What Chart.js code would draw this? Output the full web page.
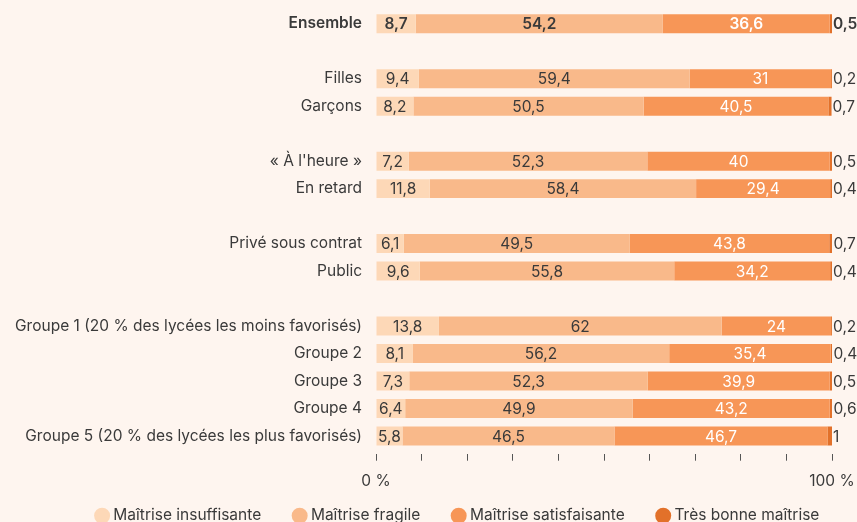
<!DOCTYPE html>
<html><head><meta charset="utf-8">
<script src="https://cdn.jsdelivr.net/npm/chart.js@4/dist/chart.umd.min.js"></script>
<style>
html,body{margin:0;padding:0;background:#FEF5EF;}
#wrap{width:857px;height:522px;position:relative;}
</style></head>
<body><div id="wrap"><canvas id="c" width="857" height="522"></canvas></div>
<script>
const categories = ["Ensemble", "", "Filles", "Garçons", "", "« À l'heure »", "En retard", "", "Privé sous contrat", "Public", "", "Groupe 1 (20 % des lycées les moins favorisés)", "Groupe 2", "Groupe 3", "Groupe 4", "Groupe 5 (20 % des lycées les plus favorisés)"];
const seriesNames = ["Maîtrise insuffisante", "Maîtrise fragile", "Maîtrise satisfaisante", "Très bonne maîtrise"];
const insuffisante = [8.7, null, 9.4, 8.2, null, 7.2, 11.8, null, 6.1, 9.6, null, 13.8, 8.1, 7.3, 6.4, 5.8];
const fragile      = [54.2, null, 59.4, 50.5, null, 52.3, 58.4, null, 49.5, 55.8, null, 62, 56.2, 52.3, 49.9, 46.5];
const satisfaisante= [36.6, null, 31, 40.5, null, 40, 29.4, null, 43.8, 34.2, null, 24, 35.4, 39.9, 43.2, 46.7];
const tresBonne    = [0.5, null, 0.2, 0.7, null, 0.5, 0.4, null, 0.7, 0.4, null, 0.2, 0.4, 0.5, 0.6, 1];
const xTicks = [0, 100];

const colors = ["#FDD8B7", "#F9B98A", "#F79657", "#E2712A"];
const FONT = "Inter";
const FS = 15.5;
const TXT = "#3a3a3a";
const LEGEND_SHIFT = 43;

const fmt = v => String(v).replace('.', ',');

const labelPlugin = {
  id: 'barLabels',
  afterLayout(chart) {
    // widen the clipping box of the x tick labels and move the legend block right
    chart.scales.x.bottom = chart.height;
    chart.legend.left += LEGEND_SHIFT;
    chart.legend.right += LEGEND_SHIFT;
  },
  afterDatasetsDraw(chart) {
    const ctx = chart.ctx;
    ctx.save();
    ctx.textBaseline = 'middle';
    chart.data.datasets.forEach((ds, di) => {
      const meta = chart.getDatasetMeta(di);
      meta.data.forEach((el, i) => {
        const v = ds.data[i];
        if (v == null) return;
        const p = el.getProps(['x', 'y', 'base'], true);
        const bold = i === 0;
        ctx.font = (bold ? '600 ' : '') + FS + 'px ' + FONT;
        if (di === 3) {
          ctx.fillStyle = TXT;
          ctx.textAlign = 'left';
          ctx.fillText(fmt(v), p.x + 1, p.y + 1);
        } else {
          ctx.fillStyle = di === 2 ? '#FFFFFF' : TXT;
          ctx.textAlign = 'center';
          ctx.fillText(fmt(v), (p.x + p.base) / 2, p.y + 1);
        }
      });
    });
    ctx.restore();
  }
};

const data = {
  labels: categories,
  datasets: [insuffisante, fragile, satisfaisante, tresBonne].map((d, i) => ({
    label: seriesNames[i],
    data: d,
    backgroundColor: colors[i],
    borderWidth: 0,
    categoryPercentage: 1,
    barPercentage: 0.69
  }))
};

new Chart(document.getElementById('c'), {
  type: 'bar',
  data,
  plugins: [labelPlugin],
  options: {
    indexAxis: 'y',
    responsive: false,
    animation: false,
    layout: { padding: { top: 10, right: 25, left: 0, bottom: 0 } },
    plugins: {
      legend: {
        position: 'bottom',
        maxHeight: 49,
        labels: {
          usePointStyle: true,
          pointStyle: 'circle',
          boxWidth: 7,
          boxHeight: 11.3,
          padding: 35,
          color: TXT,
          font: { family: FONT, size: FS }
        }
      },
      tooltip: { enabled: false }
    },
    scales: {
      x: {
        stacked: true,
        min: 0, max: 100,
        border: { display: false },
        grid: {
          drawOnChartArea: false,
          drawTicks: true,
          tickLength: 11,
          tickBorderDash: [0, 4, 7, 30],
          color: '#555555',
          lineWidth: 1
        },
        afterFit: s => { s.height = 23.3; s.paddingLeft = 0; s.paddingRight = 0; },
        ticks: {
          stepSize: 10,
          autoSkip: false,
          maxRotation: 0,
          padding: 11,
          color: TXT,
          font: { family: FONT, size: FS },
          callback: v => xTicks.includes(v) ? v + ' %' : ''
        }
      },
      y: {
        stacked: true,
        border: { display: false },
        grid: { display: false, drawTicks: false },
        afterFit: s => { s.width = 376; s.paddingTop = 0; s.paddingBottom = 0; },
        ticks: {
          autoSkip: false,
          padding: 14,
          color: TXT,
          font: c => ({ family: FONT, size: FS, weight: c.index === 0 ? '600' : 'normal' })
        }
      }
    }
  }
});
</script>
</body></html>
